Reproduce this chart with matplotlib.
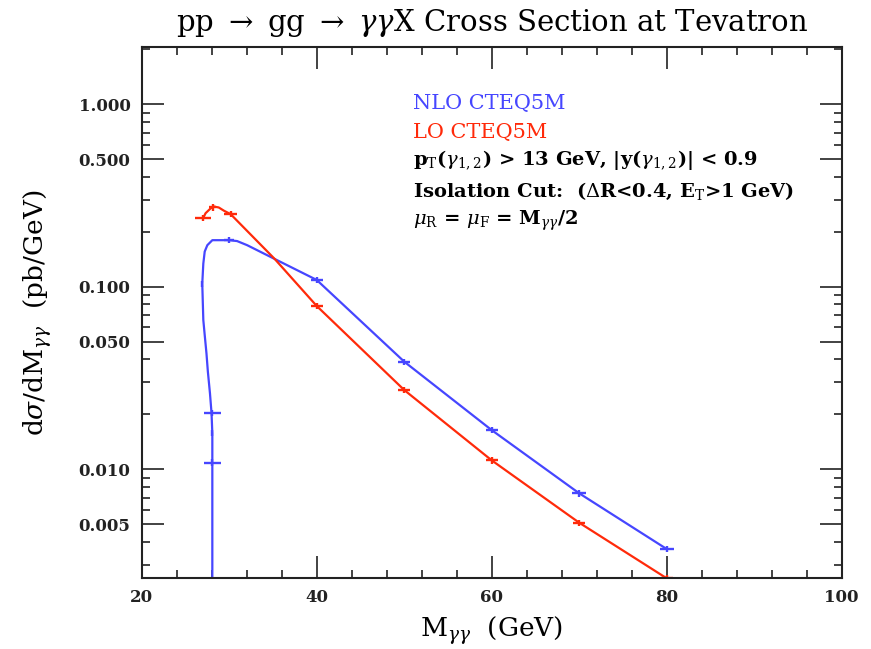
import matplotlib
matplotlib.use("Agg")
import matplotlib.pyplot as plt
from matplotlib.ticker import LogLocator, MultipleLocator, FixedLocator, FuncFormatter, NullFormatter

plt.rcParams['font.family'] = ['DejaVu Serif']
plt.rcParams['mathtext.fontset'] = 'dejavuserif'

# NLO CTEQ5M curve
nlo_x = [28.07, 28.07, 28.07, 27.98, 27.8, 27.56, 27.4, 27.2, 27.04, 26.92, 27.04, 27.2, 27.5,
         28.07, 30.0, 30.9, 32.05, 35.2, 40, 50, 60, 70, 80]
nlo_y = [0.001, 0.0109, 0.0158, 0.0203, 0.0261, 0.0343, 0.0432, 0.0544, 0.0658, 0.104, 0.134,
         0.156, 0.169, 0.180, 0.180, 0.178, 0.169, 0.142, 0.109, 0.0389, 0.0164, 0.00739, 0.00366]
# NLO points with error crosses
nlo_px = [26.92, 28.07, 28.07, 28.07, 30.0, 40, 50, 60, 70, 80]
nlo_py = [0.104, 0.0203, 0.0158, 0.0109, 0.180, 0.109, 0.0389, 0.0164, 0.00739, 0.00366]
nlo_xerr = [0.05, 0.95, 0.1, 0.95, 0.6, 0.7, 0.7, 0.7, 0.8, 0.8]

# LO CTEQ5M curve
lo_x = [27.04, 27.3, 27.88, 28.24, 28.8, 29.4, 30.16, 35.2, 40, 50, 60, 70, 80]
lo_y = [0.239, 0.253, 0.269, 0.275, 0.272, 0.261, 0.250, 0.142, 0.0785, 0.0272, 0.0112, 0.0051, 0.00253]
lo_px = [27.04, 28.14, 30.16, 40, 50, 60, 70, 80]
lo_py = [0.239, 0.272, 0.250, 0.0785, 0.0272, 0.0112, 0.0051, 0.00253]
lo_xerr = [0.9, 0.4, 0.7, 0.7, 0.7, 0.7, 0.7, 0.7]

ytick_vals = [0.005, 0.01, 0.05, 0.1, 0.5, 1.0]
xtick_vals = [20, 40, 60, 80, 100]

blue = '#4646ff'
red = '#ff2a0a'

fig = plt.figure(figsize=(8.71, 6.49), dpi=100)
ax = fig.add_axes([0.1627, 0.1094, 0.8037, 0.8177])

ax.plot(nlo_x, nlo_y, color=blue, lw=1.6)
ax.errorbar(nlo_px, nlo_py, xerr=nlo_xerr, yerr=[v * 0.04 for v in nlo_py],
            fmt='none', ecolor=blue, elinewidth=1.7, capsize=0)
ax.plot(lo_x, lo_y, color=red, lw=1.6)
ax.errorbar(lo_px, lo_py, xerr=lo_xerr, yerr=[v * 0.04 for v in lo_py],
            fmt='none', ecolor=red, elinewidth=1.7, capsize=0)

ax.set_yscale('log')
ax.set_xlim(20, 100)
ax.set_ylim(0.00254, 2.05)

ax.xaxis.set_major_locator(FixedLocator(xtick_vals))
ax.xaxis.set_minor_locator(MultipleLocator(4))
ax.yaxis.set_major_locator(FixedLocator(ytick_vals))
ax.yaxis.set_minor_locator(LogLocator(base=10, subs=[2, 3, 4, 6, 7, 8, 9]))
ax.yaxis.set_major_formatter(FuncFormatter(lambda v, p: '%.3f' % v))
ax.yaxis.set_minor_formatter(NullFormatter())

ax.tick_params(which='both', direction='in', top=True, right=True, width=1.2, colors='#222222')
ax.tick_params(which='major', length=16, pad=8)
ax.tick_params(which='minor', length=5.5)
for lab in ax.get_xticklabels() + ax.get_yticklabels():
    lab.set_fontweight('bold')
    lab.set_fontsize(12)
for s in ax.spines.values():
    s.set_linewidth(1.5)
    s.set_color('#222222')

ax.set_title(r'pp $\rightarrow$ gg $\rightarrow$ $\gamma\gamma$X Cross Section at Tevatron',
             fontsize=21, pad=12)
ax.set_xlabel(r'M$_{\gamma\gamma}$  (GeV)', fontsize=19, labelpad=6)
ax.set_ylabel(r'd$\sigma$/dM$_{\gamma\gamma}$  (pb/GeV)', fontsize=19, labelpad=18)

tx = 0.388
ax.text(tx, 0.895, 'NLO CTEQ5M', color=blue, fontsize=15, transform=ax.transAxes, va='center')
ax.text(tx, 0.840, 'LO CTEQ5M', color=red, fontsize=15, transform=ax.transAxes, va='center')
ax.text(tx, 0.788, r'p$_{\rm T}$($\gamma_{1,2}$) > 13 GeV, |y($\gamma_{1,2}$)| < 0.9',
        fontsize=14, fontweight='bold', transform=ax.transAxes, va='center')
ax.text(tx, 0.729, r'Isolation Cut:  ($\Delta$R<0.4, E$_{\rm T}$>1 GeV)',
        fontsize=14, fontweight='bold', transform=ax.transAxes, va='center')
ax.text(tx, 0.673, r'$\mu_{\rm R}$ = $\mu_{\rm F}$ = M$_{\gamma\gamma}$/2',
        fontsize=14, fontweight='bold', transform=ax.transAxes, va='center')

fig.savefig('out.png', dpi=100)
